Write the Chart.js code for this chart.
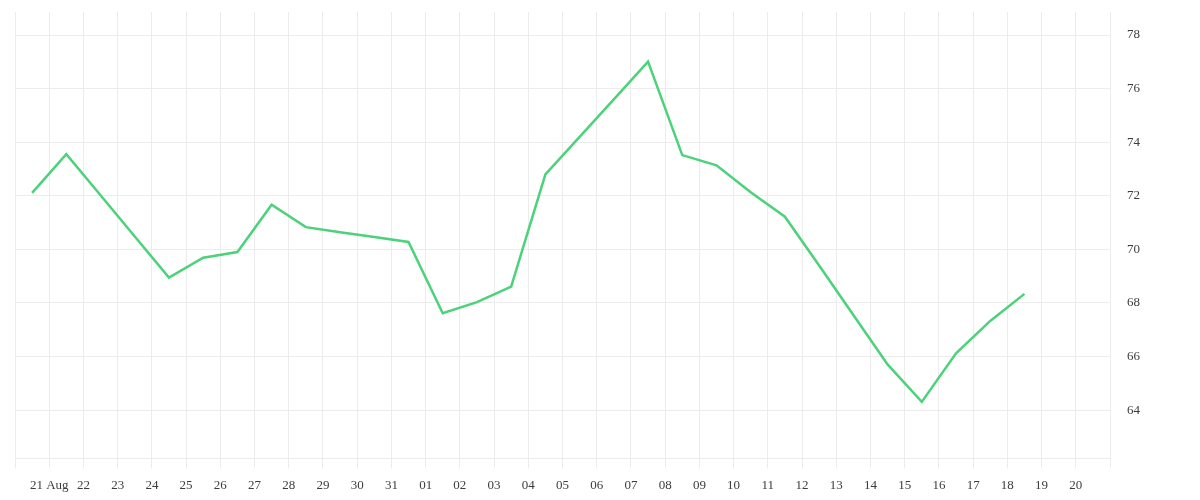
<!DOCTYPE html>
<html>
<head>
<meta charset="utf-8">
<script src="https://cdn.jsdelivr.net/npm/chart.js@4"></script>
<style>
  html, body { margin: 0; padding: 0; background: #fff; }
  #wrap { width: 1200px; height: 500px; }
</style>
</head>
<body>
<div id="wrap"><canvas id="chart"></canvas></div>
<script>
// ── Data (one point per day, plotted at mid-day between day gridlines)
const dayLabels = ['', '21 Aug', '22', '23', '24', '25', '26', '27', '28', '29', '30', '31',
  '01', '02', '03', '04', '05', '06', '07', '08', '09', '10', '11', '12', '13', '14', '15',
  '16', '17', '18', '19', '20', ''];

const values = [72.11, 73.55, 72.02, 70.48, 68.95, 69.69, 69.90, 71.67, 70.83, 70.64,
  70.46, 70.28, 67.62, 68.03, 68.61, 72.80, 74.20, 75.60, 77.01, 73.52,
  73.14, 72.13, 71.22, 69.40, 67.55, 65.71, 64.31, 66.12, 67.33, 68.34];

const yTicks = [64, 66, 68, 70, 72, 74, 76, 78];

const points = values.map((v, i) => ({ x: i + 0.5, y: v }));

const gridColor = '#ececec';
const textColor = '#3c3c3c';
const font = { family: '"Liberation Serif", serif', size: 13 };

new Chart(document.getElementById('chart'), {
  type: 'line',
  data: {
    datasets: [{
      data: points,
      borderColor: '#4cd27a',
      borderWidth: 2.5,
      pointRadius: 0,
      tension: 0,
      fill: false,
    }]
  },
  options: {
    responsive: true,
    maintainAspectRatio: false,
    animation: false,
    layout: { padding: { left: 15, top: 12, right: 57, bottom: -2 } },
    plugins: { legend: { display: false }, tooltip: { enabled: false } },
    scales: {
      x: {
        type: 'linear',
        min: 0,
        max: dayLabels.length - 1,
        ticks: {
          stepSize: 1,
          autoSkip: false,
          maxRotation: 0,
          padding: 9,
          color: textColor,
          font,
          callback: v => dayLabels[v] ?? '',
        },
        grid: { color: gridColor, tickLength: 10, drawTicks: true },
        border: { color: gridColor },
      },
      y: {
        position: 'right',
        min: 62.2,
        max: 78.86,
        afterBuildTicks: s => { s.ticks = yTicks.map(v => ({ value: v })); },
        ticks: { padding: 3, color: textColor, font },
        // invisible tick marks keep the labels clear of the plot edge
        grid: { color: gridColor, drawTicks: true, tickLength: 14, tickColor: 'rgba(0,0,0,0)' },
        border: { color: gridColor },
      }
    }
  }
});
</script>
</body>
</html>
